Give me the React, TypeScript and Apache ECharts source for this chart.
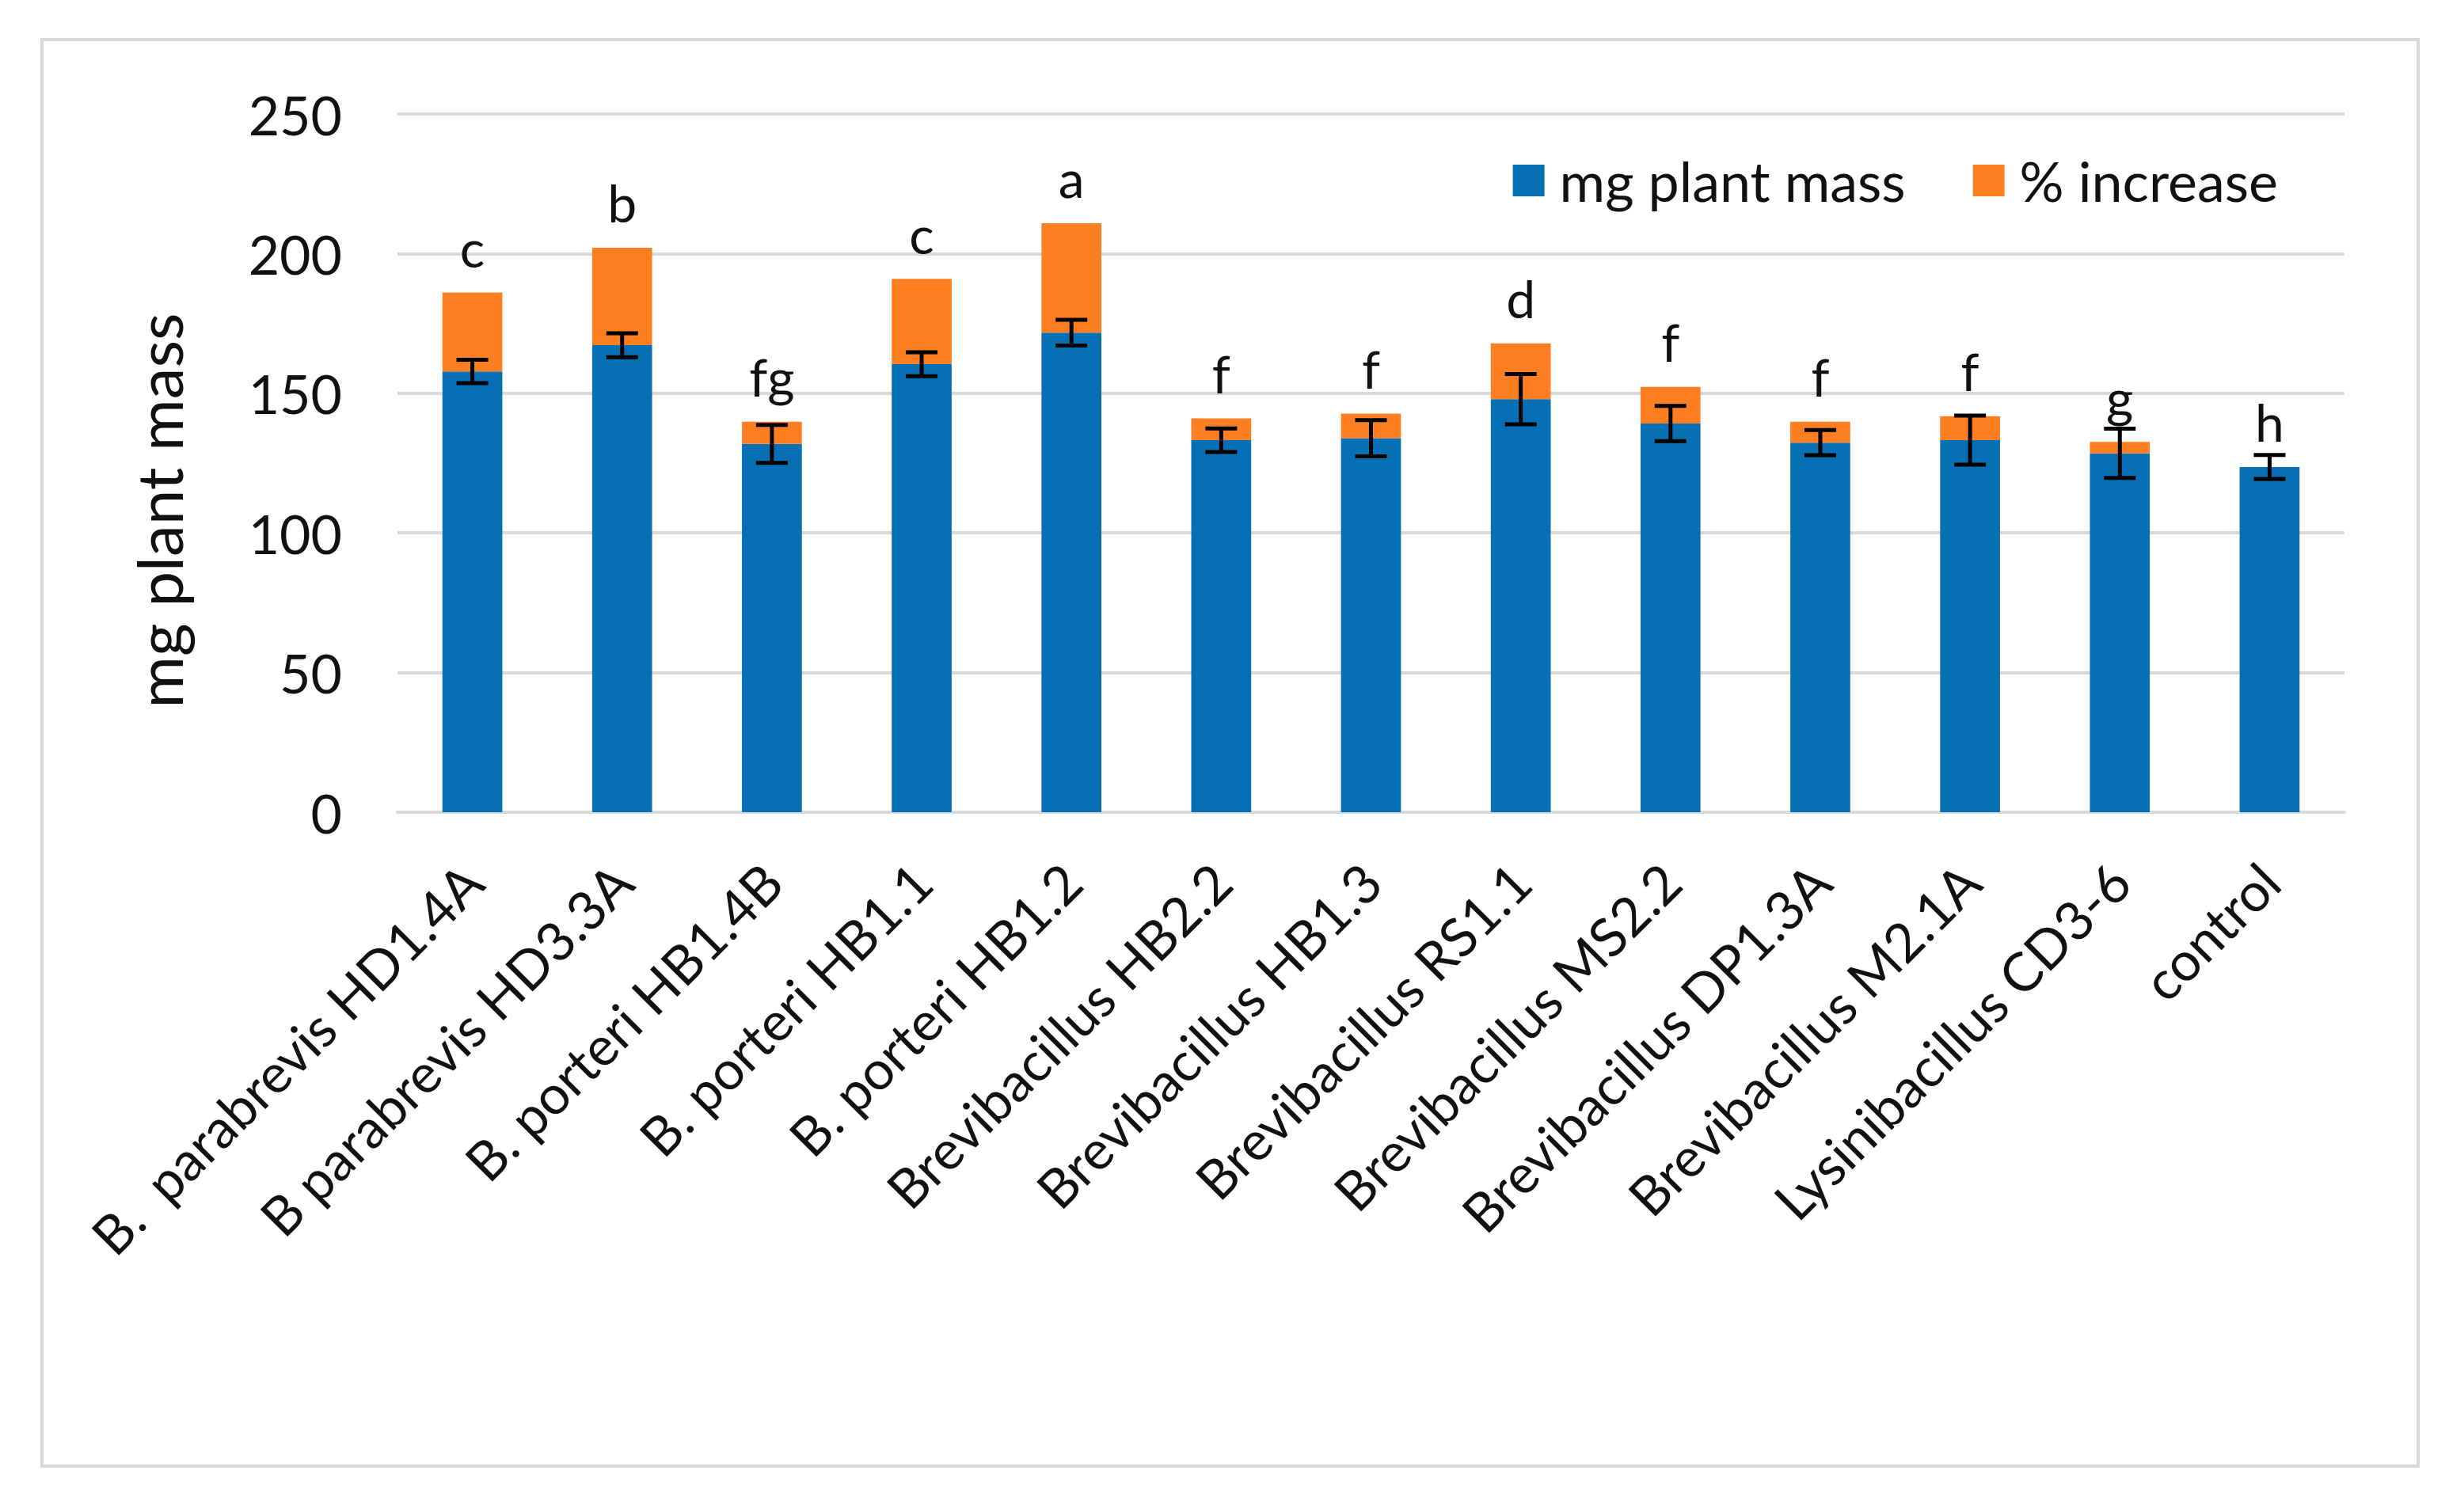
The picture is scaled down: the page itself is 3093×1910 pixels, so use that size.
import React, { useEffect, useRef } from "react";
import * as echarts from "echarts";

const categories = [
  "B.  parabrevis HD1.4A",
  "B parabrevis HD3.3A",
  "B. porteri HB1.4B",
  "B. porteri HB1.1",
  "B. porteri HB1.2",
  "Brevibacillus HB2.2",
  "Brevibacillus HB1.3",
  "Brevibacillus RS1.1",
  "Brevibacillus MS2.2",
  "Brevibacillus DP1.3A",
  "Brevibacillus M2.1A",
  "Lysinibacillus CD3-6",
  "control",
];
const massValues = [157.8, 167.2, 131.9, 160.4, 171.7, 133.2, 133.9, 147.9, 139.2, 132.3, 133.2, 128.5, 123.6];
const increaseValues = [28.3, 34.9, 7.9, 30.6, 39.2, 7.8, 8.8, 20.0, 13.1, 7.5, 8.6, 4.1, 0];
const errorValues = [4.2, 4.3, 6.8, 4.3, 4.6, 4.2, 6.5, 9.0, 6.3, 4.5, 8.8, 8.8, 4.3];
const letters = ["c", "b", "fg", "c", "a", "f", "f", "d", "f", "f", "f", "g", "h"];
const yTicks = { min: 0, max: 250, interval: 50 };

const FONT = "Lato";
const BLUE = "#0770B4";
const ORANGE = "#FE7F22";
const GRID = "#D9D9D9";

export default function App() {
  const ref = useRef<HTMLDivElement>(null);
  useEffect(() => {
    document.body.style.margin = "0";
    if (!ref.current) return;
    const chart = echarts.init(ref.current, undefined, { renderer: "svg" });
    const errData = massValues.map((v, i) => [i, v, errorValues[i]]);
    chart.setOption({
      animation: false,
      backgroundColor: "#ffffff",
      textStyle: { fontFamily: FONT },
      graphic: [
        {
          type: "rect",
          shape: { x: 53, y: 50, width: 3001, height: 1802 },
          style: { fill: "none", stroke: GRID, lineWidth: 4 },
          silent: true,
        },
      ],
      grid: {
        left: 502,
        right: 132,
        top: 144,
        bottom: 884,
        containLabel: false,
        outerBoundsMode: "none",
      },
      legend: {
        right: 211,
        top: 188,
        icon: "rect",
        itemWidth: 40,
        itemHeight: 40,
        itemGap: 85,
        textStyle: { fontSize: 70, color: "#111", fontFamily: FONT, padding: [0, 0, 0, 14] },
        data: ["mg plant mass", "% increase"],
      },
      xAxis: {
        type: "category",
        data: categories,
        axisLine: { lineStyle: { color: GRID, width: 4 } },
        axisTick: { show: false },
        axisLabel: {
          rotate: 45,
          interval: 0,
          margin: 76,
          fontSize: 68,
          color: "#111",
          fontFamily: FONT,
        },
      },
      yAxis: {
        type: "value",
        min: yTicks.min,
        max: yTicks.max,
        interval: yTicks.interval,
        name: "mg plant mass",
        nameLocation: "middle",
        nameGap: 262,
        nameTextStyle: { fontSize: 80, color: "#111", fontFamily: FONT, padding: [0, 120, 0, 0] },
        axisLine: { show: false },
        axisTick: { show: false },
        axisLabel: { margin: 70, fontSize: 68, color: "#111", fontFamily: FONT },
        splitLine: { lineStyle: { color: GRID, width: 4 } },
      },
      series: [
        {
          name: "mg plant mass",
          type: "bar",
          stack: "total",
          barWidth: "40%",
          itemStyle: { color: BLUE },
          data: massValues,
        },
        {
          name: "% increase",
          type: "bar",
          stack: "total",
          barWidth: "40%",
          itemStyle: { color: ORANGE },
          data: increaseValues,
          label: {
            show: true,
            position: "top",
            distance: 24,
            fontSize: 66,
            color: "#111",
            fontFamily: FONT,
            formatter: (p: any) => letters[p.dataIndex],
          },
        },
        {
          name: "error",
          type: "custom",
          z: 10,
          data: errData,
          renderItem: (params: any, api: any) => {
            const i = api.value(0);
            const m = api.value(1);
            const e = api.value(2);
            const top = api.coord([i, m + e]);
            const bot = api.coord([i, m - e]);
            const hw = 20;
            const style = { stroke: "#000", lineWidth: 5 };
            return {
              type: "group",
              children: [
                { type: "line", shape: { x1: top[0], y1: top[1], x2: bot[0], y2: bot[1] }, style },
                { type: "line", shape: { x1: top[0] - hw, y1: top[1], x2: top[0] + hw, y2: top[1] }, style },
                { type: "line", shape: { x1: bot[0] - hw, y1: bot[1], x2: bot[0] + hw, y2: bot[1] }, style },
              ],
            };
          },
        },
      ],
    });
    return () => chart.dispose();
  }, []);
  return <div ref={ref} style={{ width: 3093, height: 1910 }} />;
}
